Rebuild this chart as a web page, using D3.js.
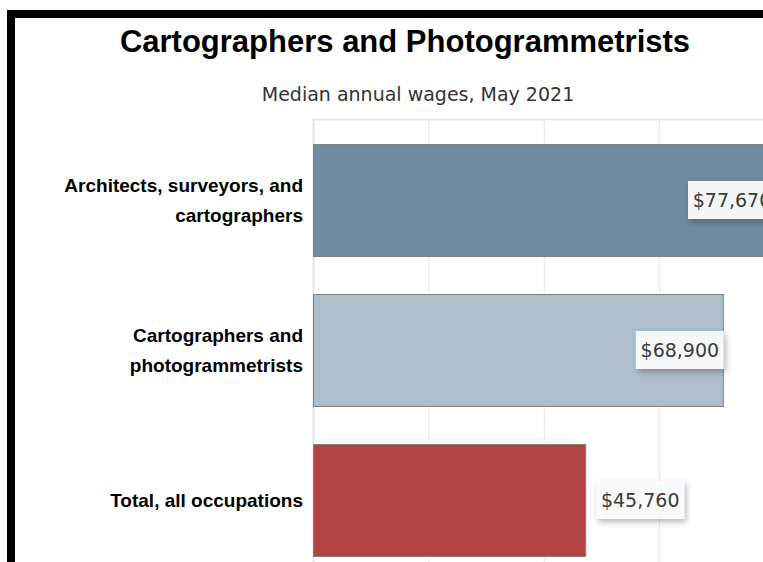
<!DOCTYPE html>
<html>
<head>
<meta charset="utf-8">
<script src="https://cdn.jsdelivr.net/npm/d3@7"></script>
<style>
  html, body { margin: 0; padding: 0; background: #fff; }
  svg { display: block; }
</style>
</head>
<body>
<svg id="chart" width="763" height="562"></svg>
<script>
const title = "Cartographers and Photogrammetrists";
const subtitle = "Median annual wages, May 2021";
const categories = [
  ["Architects, surveyors, and", "cartographers"],
  ["Cartographers and", "photogrammetrists"],
  ["Total, all occupations"]
];
const values = [77670, 68900, 45760];
const barColors = ["#6f8aa0", "#adbfcb", "#b24343"];
const gridCount = 5;

const W = 763, H = 562;
const svg = d3.select("#chart");

// frame
svg.append("rect").attr("x", 0).attr("y", 0).attr("width", W).attr("height", H).attr("fill", "#fff");
svg.append("rect").attr("x", 7).attr("y", 10).attr("width", W).attr("height", 8).attr("fill", "#000");
svg.append("rect").attr("x", 7).attr("y", 10).attr("width", 8).attr("height", H).attr("fill", "#000");

const defs = svg.append("defs");
const f = defs.append("filter").attr("id", "shadow").attr("x", "-20%").attr("y", "-30%").attr("width", "150%").attr("height", "180%");
f.append("feDropShadow").attr("dx", 2).attr("dy", 3).attr("stdDeviation", 3).attr("flood-color", "#000").attr("flood-opacity", 0.3);

const x0 = 313, plotTop = 119;
const xMax = 97000;
const x = d3.scaleLinear().domain([0, xMax]).range([x0, x0 + 577]);
const y = d3.scaleBand().domain(d3.range(values.length)).range([plotTop, plotTop + 462])
  .paddingInner(0.2533).paddingOuter(0.1667);

// grid
const gridVals = d3.range(0, gridCount + 1).map(i => xMax * i / gridCount);
svg.append("g").selectAll("line").data(gridVals).join("line")
  .attr("x1", d => x(d) + 0.5).attr("x2", d => x(d) + 0.5)
  .attr("y1", plotTop).attr("y2", H)
  .attr("stroke", "#e6e6e6").attr("stroke-width", d => d === 0 ? 2 : 1);
svg.append("line").attr("x1", x0).attr("x2", W).attr("y1", plotTop + 0.5).attr("y2", plotTop + 0.5)
  .attr("stroke", "#e6e6e6").attr("stroke-width", 2);

// bars
svg.append("g").selectAll("rect").data(values).join("rect")
  .attr("x", x(0) + 0.5)
  .attr("y", (d, i) => y(i) + 0.5)
  .attr("width", d => x(d) - x(0))
  .attr("height", y.bandwidth())
  .attr("fill", (d, i) => barColors[i])
  .attr("stroke", "#808080").attr("stroke-width", 1);

// category labels
const catG = svg.append("g");
const catFs = 19;
categories.forEach((lines, i) => {
  const cy = y(i) + y.bandwidth() / 2;
  const lh = 30;
  const t = catG.append("text")
    .attr("text-anchor", "end")
    .attr("font-family", "'Liberation Sans', Arial, sans-serif")
    .attr("font-weight", "bold").attr("font-size", catFs).attr("fill", "#000");
  lines.forEach((ln, j) => {
    t.append("tspan").attr("x", 303)
      .attr("y", cy + (j - (lines.length - 1) / 2) * lh + catFs * 0.36)
      .text(ln);
  });
});

// data labels
const fmt = v => "$" + d3.format(",")(v);
const lblW = 88, lblH = 38;
values.forEach((v, i) => {
  const cy = y(i) + y.bandwidth() / 2;
  const inside = x(v) - x(0) > 350;
  const bx = inside ? x(v) - lblW + 1 : x(v) + 11;
  const g = svg.append("g");
  g.append("rect").attr("x", bx).attr("y", cy - lblH / 2).attr("width", lblW).attr("height", lblH)
    .attr("fill", "#fafbfc").attr("fill-opacity", 0.95).attr("filter", "url(#shadow)");
  g.append("text").attr("x", bx + lblW / 2).attr("y", cy + 7)
    .attr("text-anchor", "middle")
    .attr("font-family", "'DejaVu Sans', Verdana, sans-serif")
    .attr("font-size", 19).attr("fill", "#3a3a3a")
    .text(fmt(v));
});

// titles
svg.append("text").attr("x", 405).attr("y", 52).attr("text-anchor", "middle")
  .attr("font-family", "'Liberation Sans', Arial, sans-serif").attr("font-weight", "bold")
  .attr("font-size", 31).attr("fill", "#000").text(title);
svg.append("text").attr("x", 418).attr("y", 101).attr("text-anchor", "middle")
  .attr("font-family", "'DejaVu Sans', Verdana, sans-serif")
  .attr("font-size", 19).attr("fill", "#333").text(subtitle);
</script>
</body>
</html>
